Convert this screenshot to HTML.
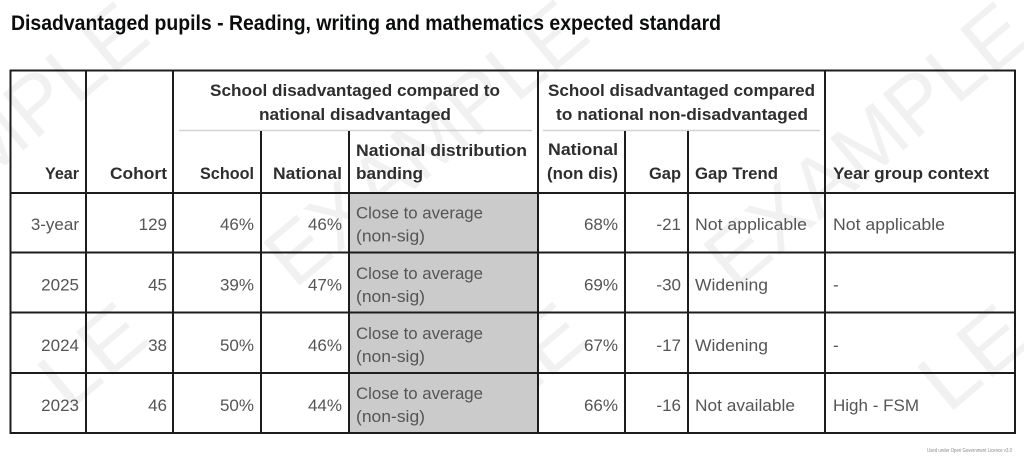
<!DOCTYPE html>
<html>
<head>
<meta charset="utf-8">
<style>
  html, body { margin: 0; padding: 0; background: #ffffff; overflow: hidden; }
  body { width: 1024px; height: 459px; overflow: hidden; }
  svg { display: block; }
  .wm { font-family: "Liberation Sans", sans-serif; font-size: 82px; fill: #f1f1f1; }
  .t { font-family: "Liberation Sans", sans-serif; }
  .title { font-size: 21px; font-weight: bold; fill: #0b0c0c; }
  .h { font-size: 17px; font-weight: bold; fill: #2e2e2e; }
  .b { font-size: 17px; fill: #555555; }
</style>
</head>
<body>
<svg width="1024" height="459" viewBox="0 0 1024 459" xmlns="http://www.w3.org/2000/svg" overflow="hidden">
  <defs>
    <clipPath id="frame"><rect x="0" y="0" width="1024" height="459"/></clipPath>
  </defs>
  <rect x="0" y="0" width="1024" height="459" fill="#ffffff"/>

  <!-- watermarks -->
  <g class="wm" clip-path="url(#frame)">
    <text x="-10" y="150" text-anchor="middle" dominant-baseline="middle" transform="rotate(-40 -10 150)" textLength="390" lengthAdjust="spacingAndGlyphs">EXAMPLE</text>
    <text x="430" y="148" text-anchor="middle" dominant-baseline="middle" transform="rotate(-40 430 148)" textLength="390" lengthAdjust="spacingAndGlyphs">EXAMPLE</text>
    <text x="870" y="150" text-anchor="middle" dominant-baseline="middle" transform="rotate(-40 870 150)" textLength="390" lengthAdjust="spacingAndGlyphs">EXAMPLE</text>
    <text x="54" y="396" dominant-baseline="middle" transform="rotate(-40 54 396)" textLength="111" lengthAdjust="spacingAndGlyphs">LE</text>
    <text x="494" y="396" dominant-baseline="middle" transform="rotate(-40 494 396)" textLength="111" lengthAdjust="spacingAndGlyphs">LE</text>
    <text x="934" y="398" dominant-baseline="middle" transform="rotate(-40 934 398)" textLength="111" lengthAdjust="spacingAndGlyphs">LE</text>
  </g>

  <!-- title -->
  <text class="t title" x="11" y="30" textLength="710" lengthAdjust="spacingAndGlyphs">Disadvantaged pupils - Reading, writing and mathematics expected standard</text>

  <!-- gray banding cells -->
  <rect x="349" y="193" width="189" height="240" fill="#cbcbcb"/>

  <!-- light group separators -->
  <line x1="179" y1="130.5" x2="532" y2="130.5" stroke="#d2d2d2" stroke-width="1.5"/>
  <line x1="543" y1="130.5" x2="820" y2="130.5" stroke="#d2d2d2" stroke-width="1.5"/>

  <!-- grid lines -->
  <g stroke="#1c1c1c" stroke-width="2" fill="none">
    <rect x="10.5" y="70.5" width="1004.5" height="362.5"/>
    <line x1="86" y1="70" x2="86" y2="433"/>
    <line x1="173" y1="70" x2="173" y2="433"/>
    <line x1="538" y1="70" x2="538" y2="433"/>
    <line x1="825" y1="70" x2="825" y2="433"/>
    <line x1="261" y1="131" x2="261" y2="433"/>
    <line x1="349" y1="131" x2="349" y2="433"/>
    <line x1="625" y1="131" x2="625" y2="433"/>
    <line x1="688" y1="131" x2="688" y2="433"/>
    <line x1="10" y1="193" x2="1015" y2="193"/>
    <line x1="10" y1="252.5" x2="1015" y2="252.5"/>
    <line x1="10" y1="312.5" x2="1015" y2="312.5"/>
    <line x1="10" y1="373" x2="1015" y2="373"/>
  </g>

  <!-- header texts -->
  <g class="t h">
    <text x="210" y="96" textLength="290" lengthAdjust="spacingAndGlyphs">School disadvantaged compared to</text>
    <text x="259" y="120" textLength="192" lengthAdjust="spacingAndGlyphs">national disadvantaged</text>
    <text x="548" y="96" textLength="267" lengthAdjust="spacingAndGlyphs">School disadvantaged compared</text>
    <text x="556" y="120" textLength="252" lengthAdjust="spacingAndGlyphs">to national non-disadvantaged</text>
    <text x="45" y="179" textLength="34" lengthAdjust="spacingAndGlyphs">Year</text>
    <text x="110" y="179" textLength="57" lengthAdjust="spacingAndGlyphs">Cohort</text>
    <text x="200" y="179" textLength="54" lengthAdjust="spacingAndGlyphs">School</text>
    <text x="273" y="179" textLength="69" lengthAdjust="spacingAndGlyphs">National</text>
    <text x="356" y="156" textLength="171" lengthAdjust="spacingAndGlyphs">National distribution</text>
    <text x="356" y="179" textLength="67" lengthAdjust="spacingAndGlyphs">banding</text>
    <text x="548" y="155" textLength="70" lengthAdjust="spacingAndGlyphs">National</text>
    <text x="547" y="179" textLength="71" lengthAdjust="spacingAndGlyphs">(non dis)</text>
    <text x="649" y="179" textLength="32" lengthAdjust="spacingAndGlyphs">Gap</text>
    <text x="695" y="179" textLength="83" lengthAdjust="spacingAndGlyphs">Gap Trend</text>
    <text x="833" y="179" textLength="156" lengthAdjust="spacingAndGlyphs">Year group context</text>
  </g>

  <!-- body texts -->
  <g class="t b">
    <g text-anchor="end">
      <text x="79" y="230">3-year</text>
      <text x="167" y="230">129</text>
      <text x="254" y="230">46%</text>
      <text x="342" y="230">46%</text>
      <text x="618" y="230">68%</text>
      <text x="681" y="230">-21</text>

      <text x="79" y="290.5">2025</text>
      <text x="167" y="290.5">45</text>
      <text x="254" y="290.5">39%</text>
      <text x="342" y="290.5">47%</text>
      <text x="618" y="290.5">69%</text>
      <text x="681" y="290.5">-30</text>

      <text x="79" y="351">2024</text>
      <text x="167" y="351">38</text>
      <text x="254" y="351">50%</text>
      <text x="342" y="351">46%</text>
      <text x="618" y="351">67%</text>
      <text x="681" y="351">-17</text>

      <text x="79" y="411">2023</text>
      <text x="167" y="411">46</text>
      <text x="254" y="411">50%</text>
      <text x="342" y="411">44%</text>
      <text x="618" y="411">66%</text>
      <text x="681" y="411">-16</text>
    </g>

    <text x="356" y="218.5" textLength="127" lengthAdjust="spacingAndGlyphs">Close to average</text>
    <text x="356" y="241.5" textLength="69" lengthAdjust="spacingAndGlyphs">(non-sig)</text>
    <text x="356" y="279" textLength="127" lengthAdjust="spacingAndGlyphs">Close to average</text>
    <text x="356" y="302" textLength="69" lengthAdjust="spacingAndGlyphs">(non-sig)</text>
    <text x="356" y="339" textLength="127" lengthAdjust="spacingAndGlyphs">Close to average</text>
    <text x="356" y="362" textLength="69" lengthAdjust="spacingAndGlyphs">(non-sig)</text>
    <text x="356" y="399" textLength="127" lengthAdjust="spacingAndGlyphs">Close to average</text>
    <text x="356" y="422" textLength="69" lengthAdjust="spacingAndGlyphs">(non-sig)</text>

    <text x="695" y="230" textLength="112" lengthAdjust="spacingAndGlyphs">Not applicable</text>
    <text x="695" y="290.5" textLength="73" lengthAdjust="spacingAndGlyphs">Widening</text>
    <text x="695" y="351" textLength="73" lengthAdjust="spacingAndGlyphs">Widening</text>
    <text x="695" y="411" textLength="100" lengthAdjust="spacingAndGlyphs">Not available</text>

    <text x="833" y="230" textLength="112" lengthAdjust="spacingAndGlyphs">Not applicable</text>
    <text x="833" y="290.5">-</text>
    <text x="833" y="351">-</text>
    <text x="833" y="411" textLength="86" lengthAdjust="spacingAndGlyphs">High - FSM</text>
  </g>

  <text class="t" x="1012" y="452" text-anchor="end" font-size="5.5" fill="#8a8a8a" textLength="85" lengthAdjust="spacingAndGlyphs">Used under Open Government Licence v3.0</text>
</svg>
</body>
</html>
